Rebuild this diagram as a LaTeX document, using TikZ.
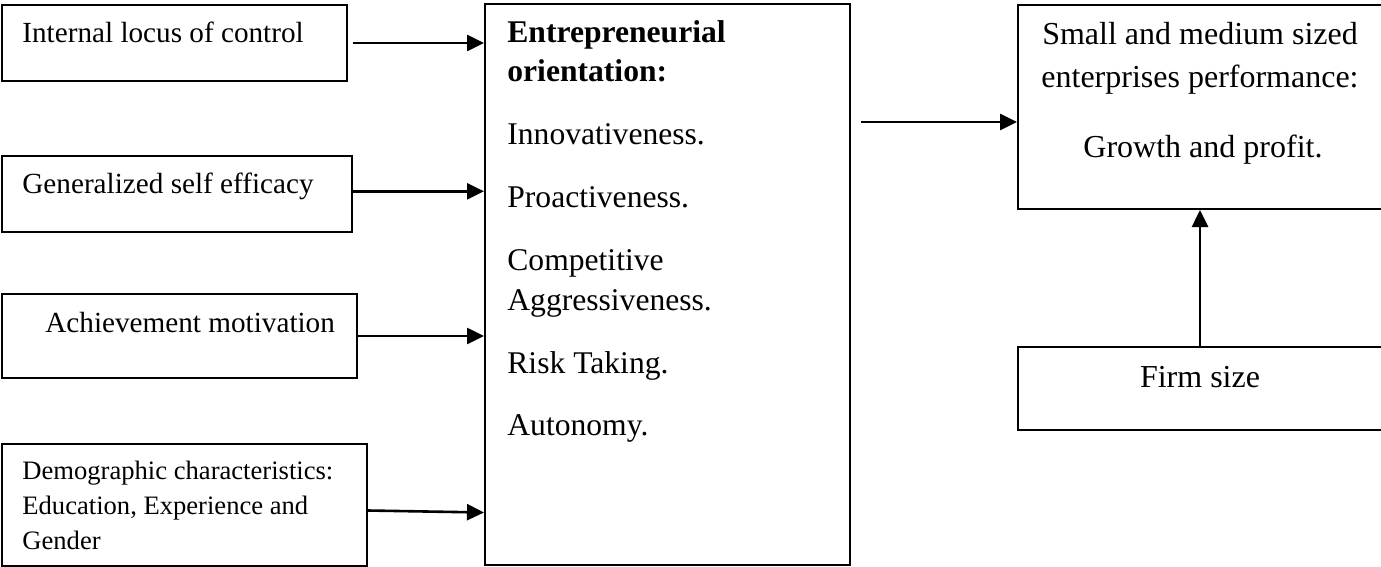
\documentclass[tikz,border=0pt]{standalone}
\usepackage{fontspec}
\setmainfont{Liberation Serif}
\usetikzlibrary{arrows.meta}

\tikzset{
  box/.style={draw, line width=1pt, inner sep=0pt},
  txt/.style={inner sep=0pt, anchor=base west, font=\fontsize{14.6}{17}\selectfont},
  eotxt/.style={inner sep=0pt, anchor=base west, font=\fontsize{15.8}{19}\selectfont},
  ctxt/.style={inner sep=0pt, anchor=base, font=\fontsize{16}{19}\selectfont},
  link/.style={line width=1.3pt, -{Triangle[length=8.5pt,width=8pt]}},
}

\begin{document}
\begin{tikzpicture}[x=0.5pt, y=-0.5pt]
	\useasboundingbox (0,0) rectangle (1381,567);

	% boxes
	\node[box, minimum width=172.5pt, minimum height=38pt] (loc) at (174.2,43) {};
	\node[box, minimum width=175pt, minimum height=38pt] (gse) at (177,193.7) {};
	\node[box, minimum width=177.5pt, minimum height=42pt] (ach) at (179.2,336) {};
	\node[box, minimum width=182.5pt, minimum height=61pt] (demo) at (184.2,505) {};
	\node[box, minimum width=182.5pt, minimum height=280.5pt] (eo) at (667.5,284.5) {};
	\node[box, minimum width=182pt, minimum height=102pt] (perf) at (1200,107) {};
	\node[box, minimum width=182pt, minimum height=41.5pt] (firm) at (1200,388.5) {};

	% texts on the left
	\node[txt] (loctxt) at (22,43) {Internal locus of control};
	\node[txt] (gsetxt) at (22,193) {Generalized self efficacy};
	\node[txt] (achtxt) at (45,332) {Achievement motivation};
	\node[txt, anchor=north west, align=left, font=\fontsize{13.3}{17.5}\selectfont] (demotxt) at (22,461)
		{Demographic characteristics:\\Education, Experience and\\Gender};

	% entrepreneurial orientation
	\node[eotxt] (eo1) at (507,43) {\textbf{Entrepreneurial}};
	\node[eotxt] (eo2) at (507,81.7) {\textbf{orientation:}};
	\node[eotxt] (eo3) at (507,145) {Innovativeness.};
	\node[eotxt] (eo4) at (507,207) {Proactiveness.};
	\node[eotxt] (eo5) at (507,270.7) {Competitive};
	\node[eotxt] (eo6) at (507,310) {Aggressiveness.};
	\node[eotxt] (eo7) at (507,373) {Risk Taking.};
	\node[eotxt] (eo8) at (507,435) {Autonomy.};

	% performance and firm size
	\node[ctxt] (perf1) at (1200,45) {Small and medium sized};
	\node[ctxt] (perf2) at (1200,88) {enterprises performance:};
	\node[ctxt] (perf3) at (1203,157) {Growth and profit.};
	\node[ctxt] (firmtxt) at (1200,387) {Firm size};

	% arrows
	\draw[link, shorten <=2.5pt] (loc.east) -- (loc.east -| eo.west);
	\draw[link] ([yshift=1.2pt]gse.east) -- ([yshift=1.2pt]gse.east -| eo.west);
	\draw[link] (ach.east) -- (ach.east -| eo.west);
	\draw[link] ([yshift=-2.75pt]demo.east) -- ([yshift=-3.75pt]demo.east -| eo.west);
	\draw[link, shorten <=5pt] ([yshift=-7.5pt]perf.west -| eo.east) -- ([yshift=-7.5pt]perf.west);
	\draw[link] (firm.north) -- (perf.south);
\end{tikzpicture}
\end{document}
